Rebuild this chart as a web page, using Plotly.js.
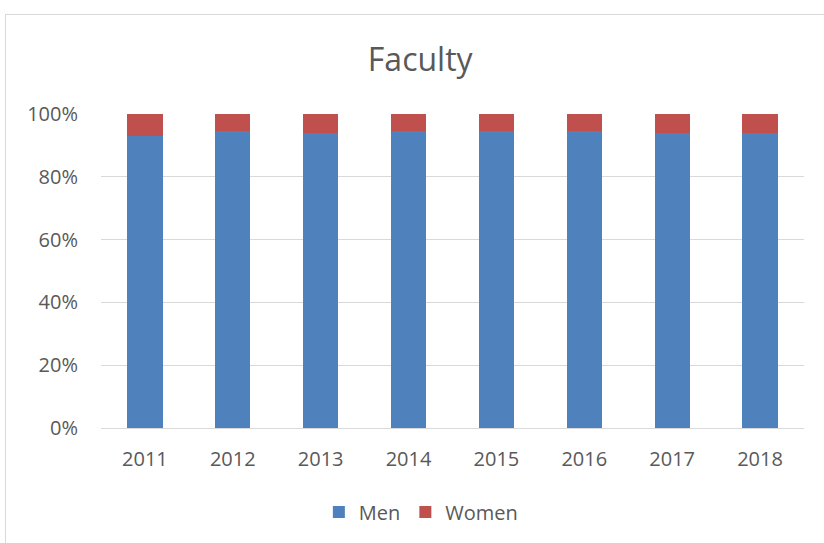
<!DOCTYPE html>
<html>
<head>
<meta charset="utf-8">
<script src="https://cdn.plot.ly/plotly-3.0.1.min.js"></script>
<style>
  html, body { margin: 0; padding: 0; background: #fff; overflow: hidden; }
  #frame { position: absolute; left: 5px; top: 14px; width: 840px; height: 560px; border: 1px solid #d9d9d9; box-sizing: border-box; }
  #chart { position: absolute; left: 0; top: 0; width: 824px; height: 543px; }
</style>
</head>
<body>
<div id="frame"></div>
<div id="chart"></div>
<script>
const years = ['2011', '2012', '2013', '2014', '2015', '2016', '2017', '2018'];
const men = [93.0, 94.5, 94.1, 94.5, 94.5, 94.5, 93.8, 93.8];
const women = [7.0, 5.5, 5.9, 5.5, 5.5, 5.5, 6.2, 6.2];
const yTicks = [0, 20, 40, 60, 80, 100];
const yTickText = ['0%', '20%', '40%', '60%', '80%', '100%'];

const font = "'Open Sans', 'Noto Sans', sans-serif";
const traces = [
  { type: 'bar', name: 'Men', x: years, y: men, marker: { color: '#4f81bd' }, width: 0.4 },
  { type: 'bar', name: 'Women', x: years, y: women, marker: { color: '#c0504d' }, width: 0.4 }
];

const layout = {
  width: 824, height: 543,
  barmode: 'stack',
  paper_bgcolor: 'rgba(0,0,0,0)',
  plot_bgcolor: 'rgba(0,0,0,0)',
  margin: { l: 101, r: 20, t: 114, b: 115 },
  font: { family: font, color: '#595959', size: 20 },
  title: { text: 'Faculty', font: { family: font, size: 32, color: '#595959' }, x: 0.51, xanchor: 'center', y: 1 - 60 / 543, yanchor: 'middle', yref: 'container' },
  xaxis: { type: 'category', showgrid: false, showline: true, linecolor: '#d9d9d9', linewidth: 1, ticks: '', ticklabelstandoff: 13, tickfont: { size: 20, color: '#595959' } },
  yaxis: { range: [0, 100], tickvals: yTicks, ticktext: yTickText, showgrid: true, gridcolor: '#d9d9d9', gridwidth: 1, zeroline: false, showline: false, ticks: '', ticklabelstandoff: 22, tickfont: { size: 20, color: '#595959' } },
  showlegend: true,
  legend: { orientation: 'h', x: 0.455, xanchor: 'center', y: 1 - 512 / 543, yanchor: 'middle', yref: 'container', font: { size: 20, color: '#595959' }, itemwidth: 30, traceorder: 'normal' }
};

Plotly.newPlot('chart', traces, layout, { displayModeBar: false, staticPlot: true });
</script>
</body>
</html>
